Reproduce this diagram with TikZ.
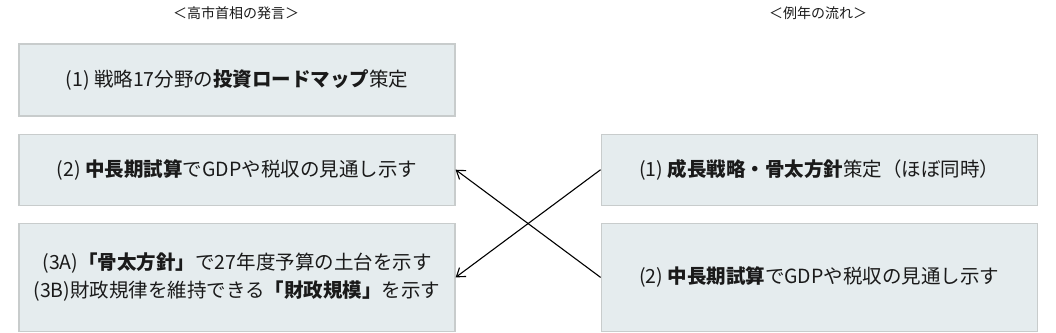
\documentclass[tikz,border=0pt]{standalone}
\usepackage{fontspec}
\setmainfont{Noto Sans CJK JP}
\usetikzlibrary{positioning, arrows.meta}
\definecolor{boxfill}{HTML}{E5ECEE}
\definecolor{boxline}{HTML}{C8CCCC}
\definecolor{ink}{HTML}{1A1A1A}

\begin{document}
\begin{tikzpicture}[
  >={Straight Barb[length=8pt, width=11pt]},
  every node/.style={text=ink},
  head/.style = {font=\fontsize{14pt}{17pt}\selectfont, inner sep=0pt},
  box/.style  = {draw=boxline, fill=boxfill, line width=1.2pt, align=center,
                 minimum width=436pt, inner sep=0pt,
                 font=\fontsize{19.5pt}{28pt}\selectfont},
  arr/.style  = {->, line width=1.1pt, black},
]
  \useasboundingbox (0pt,0pt) rectangle (1056pt,-332pt);
  % column titles
  \node[head] (lhead) at (236pt,-13pt) {＜高市首相の発言＞};
  \node[head] (rhead) at (818pt,-13pt) {＜例年の流れ＞};

  % left column: the prime minister's statement
  \node[box, minimum height=72pt] (l1) at (237pt,-80pt)
       {(1) 戦略17分野の\textbf{投資ロードマップ}策定};
  \node[box, minimum height=71pt, below=17pt of l1] (l2)
       {(2) \textbf{中長期試算}でGDPや税収の見通し示す};
  \node[box, minimum height=108pt, below=17pt of l2] (l3)
       {(3A)\textbf{「骨太方針」}で27年度予算の土台を示す\\
        (3B)財政規律を維持できる\textbf{「財政規模」}を示す};

  % right column: the usual yearly flow
  \node[box, minimum height=71pt, right=145pt of l2] (r1)
       {(1) \textbf{成長戦略・骨太方針}策定（ほぼ同時）};
  \node[box, minimum height=108pt, right=145pt of l3] (r2)
       {(2) \textbf{中長期試算}でGDPや税収の見通し示す};

  \draw[arr] (r1.west) -- (l3.east);
  \draw[arr] (r2.west) -- (l2.east);
\end{tikzpicture}
\end{document}
